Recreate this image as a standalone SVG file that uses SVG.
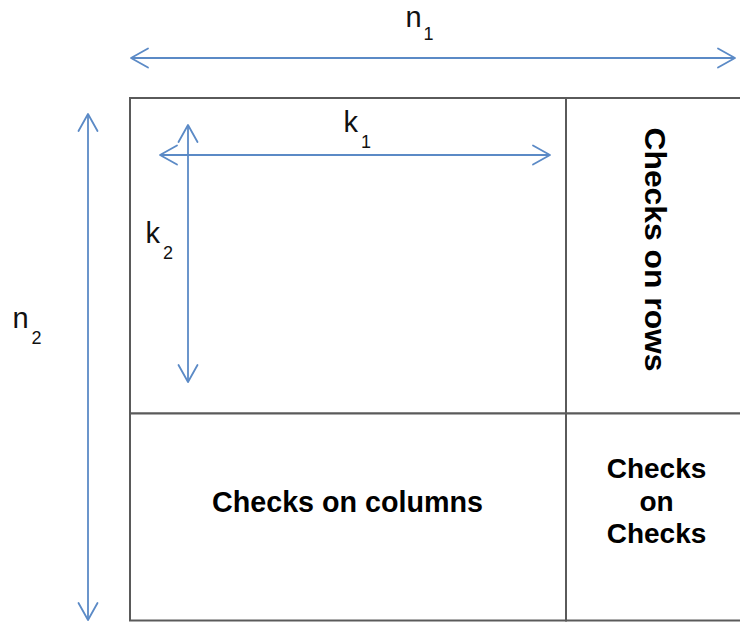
<svg xmlns="http://www.w3.org/2000/svg" width="740" height="623" viewBox="0 0 740 623">
  <style>
    .cell { fill: #ffffff; stroke: #5a5a5a; stroke-width: 2; }
    .dim { fill: none; stroke: #5b8ac6; stroke-width: 1.8; marker-start: url(#chev); marker-end: url(#chev); }
    .sym { font-family: "Liberation Sans", Arial, sans-serif; font-size: 29px; fill: #111111; }
    .sub { font-size: 18px; }
    .lbl { font-family: "Liberation Sans", Arial, sans-serif; font-weight: bold; fill: #000000; }
  </style>
  <defs>
    <marker id="chev" viewBox="-20 -12 22 24" refX="0" refY="0" markerWidth="22" markerHeight="24" markerUnits="userSpaceOnUse" orient="auto-start-reverse">
      <path d="M-17,-9.5 L0,0 L-17,9.5" fill="none" stroke="#5b8ac6" stroke-width="1.8" stroke-linejoin="round" stroke-linecap="round"/>
    </marker>
  </defs>

  <rect width="740" height="623" fill="#ffffff"/>

  <!-- code word array: information block plus parity blocks -->
  <g id="info-block">
    <rect class="cell" x="130" y="98" width="436" height="315.5"/>
  </g>
  <g id="row-checks">
    <rect class="cell" x="566" y="98" width="180" height="315.5"/>
    <text class="lbl" font-size="29" text-anchor="middle" textLength="244" lengthAdjust="spacingAndGlyphs" transform="translate(645,249.5) rotate(90)">Checks on rows</text>
  </g>
  <g id="column-checks">
    <rect class="cell" x="130" y="413.5" width="436" height="207"/>
    <text class="lbl" font-size="29" x="347.5" y="511.5" text-anchor="middle" textLength="271" lengthAdjust="spacingAndGlyphs">Checks on columns</text>
  </g>
  <g id="checks-on-checks">
    <rect class="cell" x="566" y="413.5" width="180" height="207"/>
    <text class="lbl" font-size="28" text-anchor="middle" x="656.5" y="477.5">Checks</text>
    <text class="lbl" font-size="28" text-anchor="middle" x="656.5" y="510.5">on</text>
    <text class="lbl" font-size="28" text-anchor="middle" x="656.5" y="543">Checks</text>
  </g>

  <!-- dimension arrows -->
  <g id="connectors">
    <line class="dim" x1="131" y1="58" x2="735" y2="58"/>
    <line class="dim" x1="88" y1="114" x2="88" y2="620"/>
    <line class="dim" x1="160" y1="155" x2="550" y2="155"/>
    <line class="dim" x1="188" y1="125" x2="188" y2="382"/>
  </g>

  <!-- dimension symbols -->
  <g id="dim-labels">
    <text class="sym" x="405.5" y="26.5">n<tspan class="sub" x="423.5" y="40">1</tspan></text>
    <text class="sym" x="12.5" y="327.5">n<tspan class="sub" x="31.5" y="343.5">2</tspan></text>
    <text class="sym" x="343.5" y="132">k<tspan class="sub" x="361" y="148">1</tspan></text>
    <text class="sym" x="145.5" y="243">k<tspan class="sub" x="163" y="259">2</tspan></text>
  </g>
</svg>
